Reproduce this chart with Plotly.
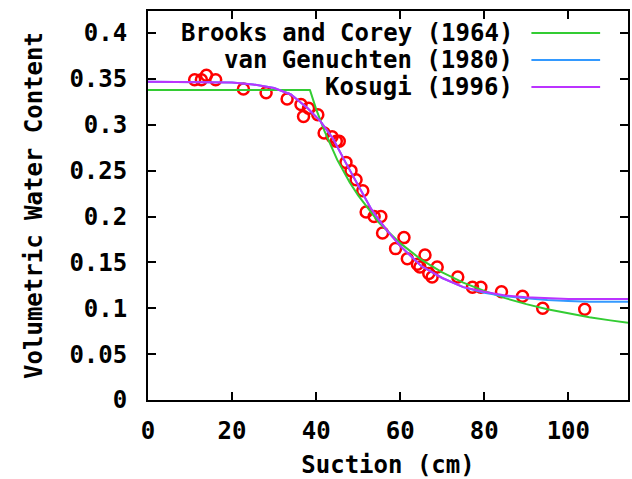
import plotly.graph_objects as go

# Measured data (suction in cm, volumetric water content)
obs_suction = [11.1, 12.7, 13.9, 16.1, 22.7, 28.1, 33.1, 36.4, 38.2, 37.0, 40.4, 41.9, 43.8, 44.8,
               45.5, 47.1, 48.3, 49.5, 51.1, 51.9, 53.8, 55.4, 55.8, 60.9, 58.9, 61.7, 64.1, 65.9,
               64.7, 66.8, 67.6, 68.8, 73.7, 77.2, 79.2, 84.1, 89.1, 93.9, 103.9]
obs_theta = [0.349, 0.349, 0.354, 0.349, 0.339, 0.335, 0.328, 0.322, 0.318, 0.309, 0.311, 0.291, 0.287, 0.282,
             0.282, 0.259, 0.250, 0.240, 0.228, 0.205, 0.200, 0.200, 0.182, 0.177, 0.165, 0.154, 0.148, 0.158,
             0.145, 0.138, 0.134, 0.145, 0.134, 0.123, 0.123, 0.118, 0.113, 0.100, 0.099]

# Fitted curves
bc_suction = [0, 38.5, 38.6, 40, 42, 45, 48, 50, 55, 60, 65, 70, 75, 80, 85, 90, 95, 100, 105, 110, 114.2]
bc_theta = [0.338, 0.338, 0.337, 0.317, 0.293, 0.262, 0.237, 0.223, 0.193, 0.171, 0.153, 0.139, 0.128,
            0.119, 0.111, 0.1045, 0.099, 0.0944, 0.0903, 0.0868, 0.0842]

vg_suction = [0, 20, 25, 30, 34, 38, 41, 44, 47, 50, 53, 55, 57, 60, 65, 70, 75, 80, 85, 90, 95, 100, 105, 114.2]
vg_theta = [0.347, 0.346, 0.344, 0.340, 0.333, 0.318, 0.304, 0.285, 0.259, 0.234, 0.209, 0.196, 0.184, 0.168,
            0.146, 0.133, 0.123, 0.117, 0.113, 0.111, 0.109, 0.108, 0.107, 0.107]

ko_suction = [0, 20, 25, 30, 34, 38, 41, 44, 47, 50, 53, 55, 57, 60, 65, 70, 75, 80, 85, 90, 95, 100, 105, 114.2]
ko_theta = [0.347, 0.346, 0.344, 0.340, 0.333, 0.318, 0.304, 0.285, 0.259, 0.234, 0.209, 0.196, 0.184, 0.168,
            0.146, 0.133, 0.123, 0.118, 0.114, 0.112, 0.111, 0.110, 0.110, 0.110]

legend_labels = ["Brooks and Corey (1964)", "van Genuchten (1980)", "Kosugi (1996)"]
colors = ["#33cc33", "#3399ff", "#bb33ff"]

FONT = "DejaVu Sans Mono"
FS = 24
fig = go.Figure()

fig.add_trace(go.Scatter(x=obs_suction, y=obs_theta, mode="markers",
                         marker=dict(symbol="circle-open", size=11, color="red",
                                     line=dict(color="red", width=2.5)),
                         showlegend=False))
for xs, ys, c in [(bc_suction, bc_theta, colors[0]), (vg_suction, vg_theta, colors[1]),
                  (ko_suction, ko_theta, colors[2])]:
    fig.add_trace(go.Scatter(x=xs, y=ys, mode="lines", line=dict(color=c, width=2), showlegend=False))

# gnuplot-style legend: text right-aligned, sample line to the right
leg_y = [33, 60, 87]
top, bottom = 11, 400
for lab, c, yp in zip(legend_labels, colors, leg_y):
    yy = (bottom - yp) / (bottom - top)
    fig.add_annotation(x=(517 - 148) / (630 - 148), y=yy, xref="paper", yref="paper",
                       text="<b>" + lab + "</b>", showarrow=False, xanchor="right", yanchor="middle",
                       font=dict(family=FONT, size=FS, color="black"))
    fig.add_shape(type="line", xref="paper", yref="paper",
                  x0=(533 - 148) / (630 - 148), x1=(602 - 148) / (630 - 148), y0=yy, y1=yy,
                  line=dict(color=c, width=2))

axis_common = dict(showline=True, linecolor="black", linewidth=2, mirror="ticks", ticks="inside",
                   ticklen=8, tickwidth=2, tickcolor="black", showgrid=False, zeroline=False,
                   tickfont=dict(family=FONT, size=FS, color="black", weight="bold"))

fig.update_xaxes(range=[0, 114.2], tickvals=[0, 20, 40, 60, 80, 100], ticklabelstandoff=8,
                 title=dict(text="<b>Suction (cm)</b>", font=dict(family=FONT, size=FS, color="black"),
                            standoff=14), **axis_common)
fig.update_yaxes(range=[0, 0.424], tickvals=[0, 0.05, 0.1, 0.15, 0.2, 0.25, 0.3, 0.35, 0.4],
                 ticktext=["0", "0.05", "0.1", "0.15", "0.2", "0.25", "0.3", "0.35", "0.4"],
                 ticklabelstandoff=14,
                 title=dict(text="<b>Volumetric Water Content</b>",
                            font=dict(family=FONT, size=FS, color="black"), standoff=20), **axis_common)

fig.update_layout(width=632, height=479, margin=dict(l=148, r=2, t=11, b=79),
                  plot_bgcolor="white", paper_bgcolor="white")

fig.write_html("out.html")
